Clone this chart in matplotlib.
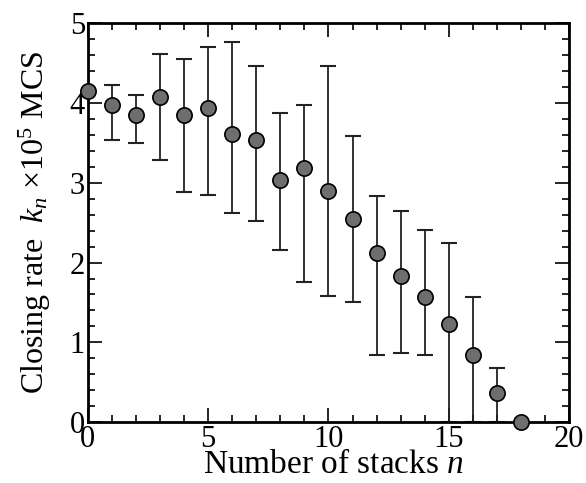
import matplotlib
matplotlib.use("Agg")
from matplotlib import pyplot as plt
from matplotlib.ticker import MultipleLocator

plt.rcParams["font.family"] = "Liberation Serif"
plt.rcParams["mathtext.fontset"] = "custom"
plt.rcParams["mathtext.rm"] = "Liberation Serif"
plt.rcParams["mathtext.it"] = "Liberation Serif:italic"

n_stacks = [0, 1, 2, 3, 4, 5, 6, 7, 8, 9, 10, 11, 12, 13, 14, 15, 16, 17, 18]
rate = [4.15, 3.98, 3.85, 4.07, 3.85, 3.94, 3.61, 3.54, 3.04, 3.19,
        2.90, 2.54, 2.12, 1.83, 1.57, 1.23, 0.84, 0.36, 0.0]
upper = [4.15, 4.23, 4.10, 4.61, 4.55, 4.70, 4.76, 4.46, 3.88, 3.98,
         4.46, 3.59, 2.84, 2.65, 2.41, 2.24, 1.57, 0.68, 0.0]
lower = [4.15, 3.53, 3.50, 3.28, 2.89, 2.85, 2.62, 2.52, 2.16, 1.76,
         1.58, 1.50, 0.84, 0.87, 0.84, 0.0, 0.0, 0.0, 0.0]

err_lo = [r - l for r, l in zip(rate, lower)]
err_hi = [u - r for r, u in zip(rate, upper)]

fig = plt.figure(figsize=(5.86, 4.83), dpi=100)
ax = fig.add_axes([0.150, 0.126, 0.821, 0.826])

ax.errorbar(n_stacks, rate, yerr=[err_lo, err_hi], fmt="none",
            ecolor="#222222", elinewidth=1.3, capsize=6, capthick=1.5, zorder=2)
ax.plot(n_stacks, rate, "o", ms=11, mfc="#6e6e6e", mec="black", mew=1.2,
        clip_on=False, zorder=3)

ax.set_xlim(0, 20)
ax.set_ylim(0, 5)
ax.xaxis.set_major_locator(MultipleLocator(5))
ax.xaxis.set_minor_locator(MultipleLocator(1))
ax.yaxis.set_major_locator(MultipleLocator(1))
ax.yaxis.set_minor_locator(MultipleLocator(0.2))
ax.tick_params(which="both", direction="in", top=True, right=True,
               labelsize=22, width=1.2, pad=2)
ax.tick_params(which="major", length=10)
ax.tick_params(which="minor", length=5)
for s in ax.spines.values():
    s.set_linewidth(2)

ax.set_xlabel(r"Number of stacks $n$", fontsize=24, va="baseline")
ax.xaxis.set_label_coords(0.51, -0.128)
ax.set_ylabel(r"Closing rate  $k_n$ $\times$10$^5$ MCS", fontsize=23, labelpad=12)

plt.savefig("out.png", dpi=100)
plt.close()
